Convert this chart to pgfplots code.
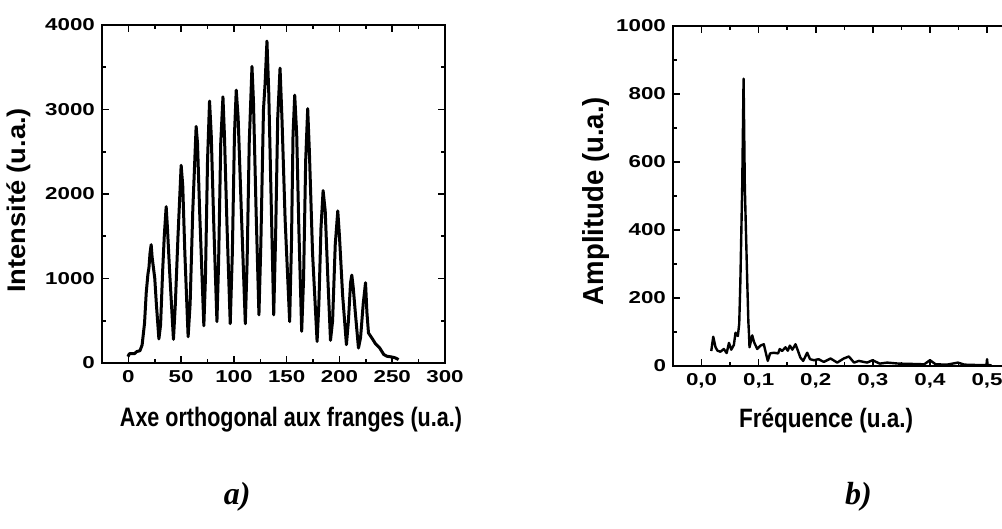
\documentclass[border=0pt]{standalone}
\usepackage{fontspec}
\setmainfont{Liberation Sans}
\newfontfamily\tickfont{Liberation Sans}[FakeStretch=1.3]
\newfontfamily\capfont{Liberation Serif}
\usepackage{graphicx}
\usepackage{pgfplots}
\pgfplotsset{compat=1.18}

\pgfplotsset{
  franges/.style={
    scale only axis,
    anchor=south west,
    clip mode=individual,
    axis line style={line width=0.9pt},
    tick style={black, line width=0.8pt},
    major tick length=3.5pt,
    minor tick length=2pt,
    tick align=inside,
    minor tick num=1,
    tick label style={font=\tickfont\bfseries\fontsize{8.6}{9}\selectfont},
    /pgf/number format/assume math mode=true,
    /pgf/number format/1000 sep={},
    scaled ticks=false,
  },
  courbe/.style={black, line width=1.5pt, line join=round, mark=none},
}

\begin{document}
\begin{tikzpicture}
\path[use as bounding box] (0,0) rectangle (501pt,264.5pt);

% a) interferogramme
\begin{axis}[franges,
  at={(51pt,83pt)}, width=171.5pt, height=169pt,
  xmin=-25, xmax=300, ymin=0, ymax=4000,
  xtick={0,50,...,300}, ytick={0,1000,...,4000},
  xlabel={\resizebox*{171pt}{12.5pt}{\bfseries Axe orthogonal aux franges (u.a.)}},
  xlabel style={at={(axis description cs:0.551,-0.169)}, anchor=center},
  ylabel={\resizebox*{92.5pt}{12pt}{\bfseries Intensité (u.a.)}},
  ylabel style={at={(axis description cs:-0.242,0.481)}, anchor=center},
]
\addplot[courbe] coordinates {
  (-0.5,75) (1,110) (5.7,110) (8,135) (11,146) (13,213) (15.3,470) (16.9,830)
  (18.5,1050) (19.5,1130) (20.5,1300) (21.6,1400) (22.5,1250) (23.5,1150)
  (25,1000) (26.5,700) (28.9,285) (30.5,450) (32.5,1100) (34,1500) (35.8,1850)
  (37,1600) (39,1100) (42.7,280) (44.5,700) (47,1500) (50,2340) (51.5,2100)
  (53.5,1300) (56.6,310) (58.5,700) (61,1800) (64.2,2800) (65.5,2600)
  (67.5,1800) (71.5,440) (73,1000) (75,2400) (76.9,3100) (78.5,2700)
  (81,1600) (83.9,490) (85.5,1200) (87.5,2600) (89.6,3150) (91,2700)
  (93.5,1600) (96.5,465) (98.5,1300) (100.5,2700) (102.2,3230) (104,2900)
  (107,1800) (110.8,465) (112.5,1200) (114.5,2600) (117.1,3510) (118.5,3100)
  (121,1800) (123.7,570) (125.5,1400) (128,3000) (129.5,3300) (131.3,3810)
  (133,3200) (135.5,1800) (137.7,570) (139.5,1500) (141.5,2900) (143.7,3490)
  (145.5,2900) (148.5,1700) (152.8,490) (154.5,1400) (156,2700) (157.6,3170)
  (159.5,2700) (161.5,1600) (164.2,375) (166,1000) (168,2400) (169.9,3010)
  (171.5,2500) (174.5,1300) (178.8,255) (180.5,700) (182.5,1600) (184.5,2040)
  (186.5,1800) (189,1000) (191.5,268) (193.5,500) (196,1400) (198.4,1800)
  (200,1500) (203,800) (206.6,217) (208.5,500) (210.5,950) (211.7,1040)
  (213,900) (215,600) (218,177) (220,300) (222.5,700) (224.7,950) (226,600)
  (227.5,355) (231,290) (234,230) (238,180) (242,100) (245,80) (250,70)
  (253,60) (256,40)
};
\node[font=\capfont\bfseries\itshape\fontsize{16}{16}\selectfont]
  at (axis description cs:0.394,-0.396) {a)};
\end{axis}

% b) spectre
\begin{axis}[franges,
  at={(336.5pt,81.5pt)}, width=171.3pt, height=170pt,
  xmin=-0.05, xmax=0.55, ymin=0, ymax=1000,
  xtick={0,0.1,0.2,0.3,0.4,0.5}, ytick={0,200,...,1000},
  xticklabel style={/pgf/number format/.cd, fixed, fixed zerofill, precision=1, use comma},
  xlabel={\resizebox*{87pt}{12.5pt}{\bfseries Fréquence (u.a.)}},
  xlabel style={at={(axis description cs:0.447,-0.16)}, anchor=center},
  ylabel={\resizebox*{104pt}{13.5pt}{\bfseries Amplitude (u.a.)}},
  ylabel style={at={(axis description cs:-0.225,0.485)}, anchor=center},
]
\addplot[courbe, line width=1.2pt] coordinates {
  (0.017,44) (0.0205,86) (0.0245,55) (0.028,45) (0.033,42) (0.039,50)
  (0.044,38) (0.048,68) (0.052,48) (0.0566,62) (0.0595,98) (0.0636,88)
  (0.066,125) (0.068,250) (0.0712,526) (0.0736,845) (0.0758,526) (0.080,250)
  (0.082,130) (0.083,98) (0.084,55) (0.0888,90) (0.092,70) (0.0975,50)
  (0.1033,60) (0.109,64) (0.1138,30) (0.116,15) (0.12,37) (0.1266,39)
  (0.134,37) (0.137,50) (0.141,44) (0.147,55) (0.151,45) (0.1547,60)
  (0.159,48) (0.1646,64) (0.169,44) (0.173,25) (0.178,15) (0.185,39)
  (0.19,20) (0.197,17) (0.205,20) (0.214,12) (0.226,22) (0.2376,10)
  (0.249,22) (0.258,28) (0.267,10) (0.2755,15) (0.29,10) (0.2995,17)
  (0.312,7) (0.325,10) (0.3455,7) (0.37,6) (0.39,5) (0.40,17) (0.41,5)
  (0.43,4) (0.449,10) (0.46,4) (0.48,3) (0.499,3) (0.5,20) (0.501,3) (0.508,2)
};
\node[font=\capfont\bfseries\itshape\fontsize{16}{16}\selectfont]
  at (axis description cs:0.541,-0.385) {b)};
\end{axis}
\end{tikzpicture}
\end{document}
